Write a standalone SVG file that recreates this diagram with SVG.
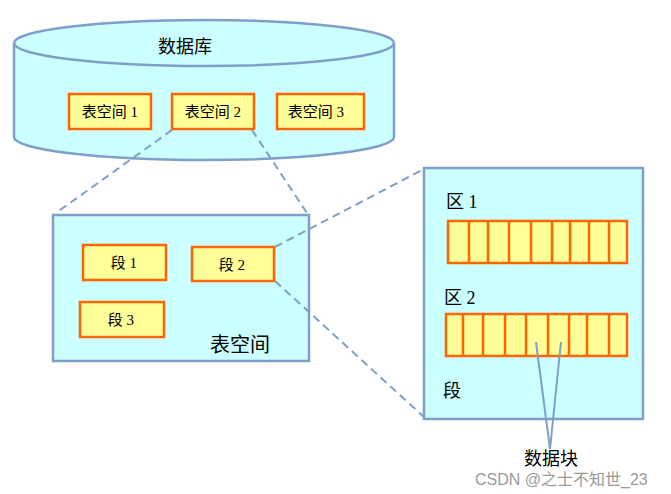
<svg xmlns="http://www.w3.org/2000/svg" width="671" height="494" viewBox="0 0 671 494">
<style>
.cont{fill:#ccffff;stroke:#7f9fc8;stroke-width:2.5}
.box{fill:#ffff99;stroke:#ff6600;stroke-width:2.5}
.dash{fill:none;stroke:#7f9fc8;stroke-width:2;stroke-dasharray:8 5}
.solid{fill:none;stroke:#7f9fc8;stroke-width:2}
.div{stroke:#ff6600;stroke-width:2.5}
text{font-family:"Liberation Serif","Noto Sans CJK SC",serif;fill:#000}
.s{font-size:15px;text-anchor:middle}
.m{font-size:18px}
.l{font-size:20px}
.wm{font-family:"Liberation Sans","Noto Sans CJK SC",sans-serif;font-size:16px;fill:#9a9a9a}
</style>
<rect width="671" height="494" fill="#fff"/>
<g id="database">
<path class="cont" d="M14,43 L14,137 A190,23 0 0 0 394,137 L394,43"/>
<ellipse class="cont" cx="204" cy="43" rx="190" ry="23"/>
<text class="m" x="185" y="53" text-anchor="middle">数据库</text>
</g>
<g id="ts1"><rect class="box" x="69" y="94" width="82" height="35"/><text class="s" x="110" y="117">表空间 1</text></g>
<g id="ts2"><rect class="box" x="172" y="94" width="82" height="35"/><text class="s" x="213" y="117">表空间 2</text></g>
<g id="ts3"><rect class="box" x="277" y="94" width="87" height="35"/><text class="s" x="316" y="117">表空间 3</text></g>
<g id="tablespace">
<rect class="cont" x="53" y="215" width="256" height="146"/>
<text class="l" x="210" y="352">表空间</text>
</g>
<g id="seg1"><rect class="box" x="83" y="245" width="83" height="35"/><text class="s" x="124" y="268">段 1</text></g>
<g id="seg2"><rect class="box" x="192" y="247" width="82" height="34"/><text class="s" x="232" y="270">段 2</text></g>
<g id="seg3"><rect class="box" x="80" y="302" width="84" height="35"/><text class="s" x="121" y="325">段 3</text></g>
<g id="segment">
<rect class="cont" x="424" y="168" width="219" height="251"/>
<text class="m" x="446" y="208">区 1</text>
<text class="m" x="444" y="304">区 2</text>
<text class="m" x="443" y="397">段</text>
</g>
<g id="extent1">
<rect class="box" x="448" y="221" width="179" height="42"/>
<path class="div" d="M469,221V263M488,221V263M509,221V263M531,221V263M552,221V263M570,221V263M589,221V263M609,221V263"/>
</g>
<g id="extent2">
<rect class="box" x="446" y="314" width="181" height="42"/>
<path class="div" d="M463,314V356M483,314V356M505,314V356M526,314V356M548,314V356M569,314V356M587,314V356M609,314V356"/>
</g>
<g id="connectors">
<line class="dash" x1="172" y1="130" x2="56" y2="213"/>
<line class="dash" x1="252" y1="130" x2="307" y2="213"/>
<line class="dash" x1="275" y1="247" x2="424" y2="169"/>
<line class="dash" x1="275" y1="281" x2="424" y2="417"/>
<line class="solid" x1="536" y1="342" x2="550" y2="449"/>
<line class="solid" x1="561" y1="342" x2="550" y2="449"/>
</g>
<g id="datablock">
<text class="m" x="551" y="465" text-anchor="middle">数据块</text>
</g>
<text class="wm" x="475" y="485">CSDN @之士不知世_23</text>
</svg>
